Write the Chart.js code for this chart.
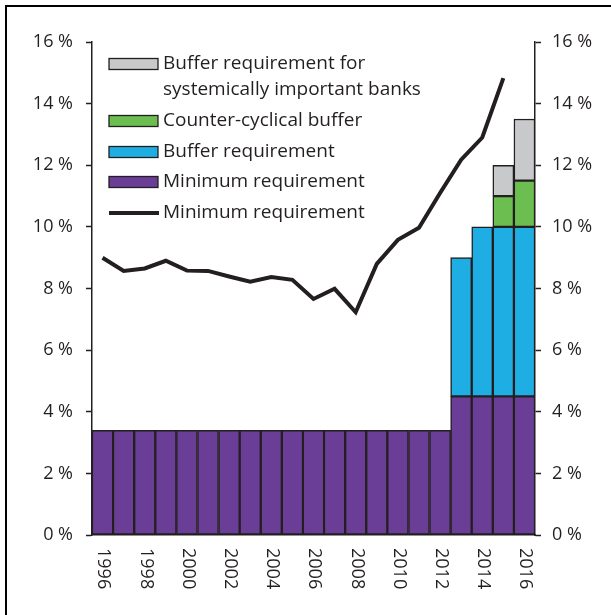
<!DOCTYPE html>
<html>
<head>
<meta charset="utf-8">
<script src="https://cdn.jsdelivr.net/npm/chart.js@4.4.1/dist/chart.umd.min.js"></script>
<style>
html,body{margin:0;padding:0;background:#fff;}
#wrap{width:611px;height:615px;position:relative;}
</style>
</head>
<body>
<div id="wrap"><canvas id="c" width="611" height="615"></canvas></div>
<script>
// ---- Data ----
const years = ['1996','1997','1998','1999','2000','2001','2002','2003','2004','2005','2006','2007','2008','2009','2010','2011','2012','2013','2014','2015','2016'];
const xTickLabels = ['1996','1998','2000','2002','2004','2006','2008','2010','2012','2014','2016'];
const yTickValues = [0,2,4,6,8,10,12,14,16];

const minimumRequirement = [3.4,3.4,3.4,3.4,3.4,3.4,3.4,3.4,3.4,3.4,3.4,3.4,3.4,3.4,3.4,3.4,3.4,4.5,4.5,4.5,4.5];
const bufferRequirement = [null,null,null,null,null,null,null,null,null,null,null,null,null,null,null,null,null,4.5,5.5,5.5,5.5];
const counterCyclicalBuffer = [null,null,null,null,null,null,null,null,null,null,null,null,null,null,null,null,null,null,null,1.0,1.5];
const systemicBuffer = [null,null,null,null,null,null,null,null,null,null,null,null,null,null,null,null,null,null,null,1.0,2.0];
const minimumRequirementLine = [9.0,8.57,8.65,8.9,8.58,8.57,8.39,8.22,8.37,8.28,7.66,7.99,7.23,8.8,9.58,9.97,11.1,12.18,12.9,14.83,null];

const seriesNames = {
  systemic: ['Buffer requirement for', 'systemically important banks'],
  ccb: 'Counter-cyclical buffer',
  buffer: 'Buffer requirement',
  minimum: 'Minimum requirement',
  line: 'Minimum requirement'
};

// ---- Styles ----
const TEXT = '#231f20';
const EDGE = '#231f20';
const FONT = '"Open Sans", "Liberation Sans", sans-serif';
const COLORS = {
  systemic: '#c8c9cb',
  ccb: '#6bbe4f',
  buffer: '#1faee3',
  minimum: '#6a3d97',
  line: '#231f20'
};

const barCommon = {
  type: 'bar',
  borderColor: EDGE,
  borderWidth: 1.5,
  borderSkipped: false,
  barPercentage: 1.0,
  categoryPercentage: 1.0,
  yAxisID: 'y',
  order: 2
};

const frameAndLabels = {
  id: 'frameAndLabels',
  afterDraw(chart) {
    const ctx = chart.ctx;
    const xs = chart.scales.x;
    ctx.save();
    // frame
    ctx.strokeStyle = '#000';
    ctx.lineWidth = 2;
    ctx.beginPath();
    ctx.moveTo(6, 700);
    ctx.lineTo(6, 6);
    ctx.lineTo(700, 6);
    ctx.stroke();
    // x tick labels, rotated clockwise
    ctx.font = '18px ' + FONT;
    ctx.fillStyle = TEXT;
    ctx.textAlign = 'left';
    ctx.textBaseline = 'middle';
    xTickLabels.forEach(lbl => {
      const i = years.indexOf(lbl);
      const x = xs.getPixelForValue(i);
      ctx.save();
      ctx.translate(x + 1, xs.top + 13);
      ctx.rotate(Math.PI / 2);
      ctx.fillText(lbl, 0, 0);
      ctx.restore();
    });
    // legend
    ctx.font = '19px ' + FONT;
    const boxX = 109, boxW = 49, boxH = 11, textX = 163;
    const rows = [
      {key: 'systemic', y: 64},
      {key: 'ccb', y: 121},
      {key: 'buffer', y: 152},
      {key: 'minimum', y: 182},
      {key: 'line', y: 213}
    ];
    rows.forEach(r => {
      const ds = chart.data.datasets.find(d => d.key === r.key);
      if (r.key === 'line') {
        ctx.strokeStyle = ds.borderColor;
        ctx.lineWidth = 4;
        ctx.beginPath();
        ctx.moveTo(boxX, r.y);
        ctx.lineTo(boxX + boxW + 1, r.y);
        ctx.stroke();
      } else {
        ctx.fillStyle = ds.backgroundColor;
        ctx.fillRect(boxX, r.y - boxH / 2, boxW, boxH);
        ctx.strokeStyle = EDGE;
        ctx.lineWidth = 1.3;
        ctx.strokeRect(boxX, r.y - boxH / 2, boxW, boxH);
      }
      ctx.fillStyle = TEXT;
      const lines = Array.isArray(ds.label) ? ds.label : [ds.label];
      lines.forEach((t, k) => ctx.fillText(t, textX, r.y + k * 26));
    });
    ctx.restore();
  }
};

function makeChart() {
  const ctx = document.getElementById('c').getContext('2d');
  new Chart(ctx, {
    data: {
      labels: years,
      datasets: [
        Object.assign({}, barCommon, {key: 'minimum', label: seriesNames.minimum, data: minimumRequirement, backgroundColor: COLORS.minimum}),
        Object.assign({}, barCommon, {key: 'buffer', label: seriesNames.buffer, data: bufferRequirement, backgroundColor: COLORS.buffer}),
        Object.assign({}, barCommon, {key: 'ccb', label: seriesNames.ccb, data: counterCyclicalBuffer, backgroundColor: COLORS.ccb}),
        Object.assign({}, barCommon, {key: 'systemic', label: seriesNames.systemic, data: systemicBuffer, backgroundColor: COLORS.systemic}),
        {
          key: 'line', type: 'line', label: seriesNames.line, data: minimumRequirementLine,
          borderColor: COLORS.line, backgroundColor: COLORS.line, borderWidth: 4,
          pointRadius: 0, tension: 0, fill: false, spanGaps: false,
          borderJoinStyle: 'miter', yAxisID: 'y', order: 1, stack: 'lineStack'
        }
      ]
    },
    options: {
      responsive: false,
      animation: false,
      devicePixelRatio: 1,
      layout: {padding: {top: 42, left: 0, right: 0, bottom: 0}},
      plugins: {legend: {display: false}, tooltip: {enabled: false}},
      scales: {
        x: {
          stacked: true,
          offset: true,
          grid: {display: false},
          border: {display: true, color: EDGE, width: 1.5},
          ticks: {display: false},
          afterFit(s) { s.height = 80; }
        },
        y: {
          position: 'left',
          stacked: true,
          min: 0, max: 16,
          afterBuildTicks(s) { s.ticks = yTickValues.map(v => ({value: v})); },
          grid: {display: true, drawOnChartArea: false, drawTicks: true, tickLength: 6, tickColor: EDGE, tickWidth: 1.5},
          border: {display: true, color: EDGE, width: 1.5},
          ticks: {font: {family: FONT, size: 18}, color: TEXT, padding: 13, callback: v => v + ' %'},
          afterFit(s) { s.width = 92; }
        },
        y2: {
          position: 'right',
          min: 0, max: 16,
          afterBuildTicks(s) { s.ticks = yTickValues.map(v => ({value: v})); },
          grid: {display: true, drawOnChartArea: false, drawTicks: true, tickLength: 6, tickColor: EDGE, tickWidth: 1.5},
          border: {display: true, color: EDGE, width: 1.5},
          ticks: {font: {family: FONT, size: 18}, color: TEXT, padding: 11, callback: v => v + ' %'},
          afterFit(s) { s.width = 76; }
        }
      }
    },
    plugins: [frameAndLabels]
  });
}

if (document.fonts && document.fonts.load) {
  document.fonts.load('18px "Open Sans"').then(makeChart, makeChart);
} else {
  makeChart();
}
</script>
</body>
</html>
